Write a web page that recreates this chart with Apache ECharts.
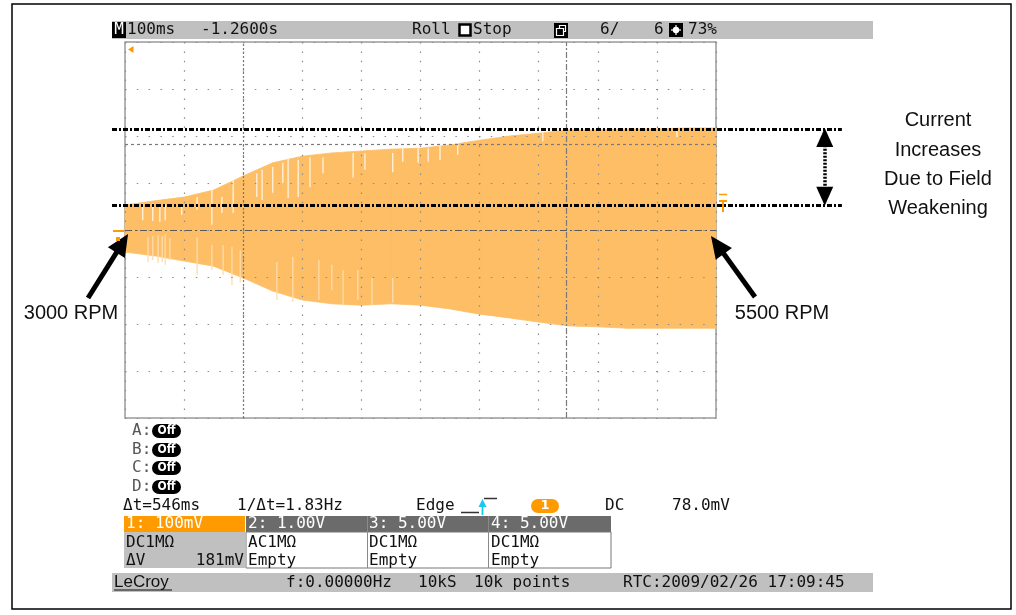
<!DOCTYPE html>
<html lang="en">
<head>
<meta charset="UTF-8">
<title>Field Weakening - scope capture</title>
<script src="https://cdn.jsdelivr.net/npm/echarts@6/dist/echarts.min.js"></script>
<style>
  html, body { margin: 0; padding: 0; background: #fff; }
  #chart { width: 1016px; height: 615px; }
</style>
</head>
<body>
<div id="chart"></div>
<script>
// time in ms (100 ms/div, 10 div), channel 1 in mV (100 mV/div, 8 div)
var timeMs  = [0, 50, 100, 150, 200, 250, 300, 350, 400, 450, 500, 550, 600, 650, 700, 750, 800, 850, 900, 950, 1000];
var upperMv = [53, 62, 70, 85, 115, 143, 157, 164, 168, 172, 174, 181, 191, 200, 206, 213, 213, 215, 215, 217, 217];
var lowerMv = [-47, -55, -66, -77, -102, -130, -149, -157, -160, -157, -160, -168, -179, -187, -196, -204, -206, -209, -209, -209, -209];

// light gaps inside the upper half of the trace
var gapTime = [30, 47, 59, 68, 96, 122, 147, 164, 183, 223, 232, 250, 267, 276, 293, 313, 335, 386, 406, 453, 470, 496, 513, 533, 563, 707, 934];
var gapLow  = [21, 19, 17, 21, 32, 43, 11, 36, 36, 70, 64, 79, 100, 68, 70, 91, 121, 111, 128, 123, 145, 143, 145, 149, 160, 189, 198];
var gapHigh = [57, 57, 53, 55, 49, 70, 85, 70, 106, 121, 128, 134, 143, 155, 149, 155, 155, 164, 164, 164, 177, 174, 174, 185, 185, 208, 213];

// pale spikes in the lower half
var spikeTime = [39, 47, 56, 63, 68, 76, 122, 147, 166, 181, 195, 257, 284, 328, 350, 369, 394, 418, 453];
var spikeLow  = [-68, -64, -70, -68, -74, -64, -96, -85, -96, -117, -111, -149, -153, -149, -128, -160, -149, -160, -155];
var spikeHigh = [-15, -13, -11, -13, -9, -17, -15, -32, -32, -36, -43, -68, -57, -64, -74, -85, -85, -102, -102];

// cursors: two time cursors (dt = 546 ms) and two level cursors (dV = 181 mV)
var timeCursors = [200, 746];
var levelCursors = [183, 0];

// annotation levels (drawn by hand on the screenshot)
var markLevels = [215, 53];
var markSpan = [-22, 1213];
var arrowX = 1184;
var arrowEnds = [197, 72];
var rpmArrowLeft = [[-62.6, -144.7], [-4.7, -28.3]];
var rpmArrowRight = [[1066, -142.6], [1002.4, -31.7]];

var PLOT = { left: 125, top: 42, width: 591, height: 376 };
var W = 1016, H = 615;
var xMin = 0, xMax = 1000, yMin = -400, yMax = 400;
var msPerPx = (xMax - xMin) / PLOT.width;
var mvPerPx = (yMax - yMin) / PLOT.height;
var ovX = [xMin - PLOT.left * msPerPx, xMax + (W - PLOT.left - PLOT.width) * msPerPx];
var ovY = [yMin - (H - PLOT.top - PLOT.height) * mvPerPx, yMax + PLOT.top * mvPerPx];

var ORANGE = '#fdbe66';
var SCOPE_FONT = '16px "DejaVu Sans Mono"';

var chart = echarts.init(document.getElementById('chart'));

function triples(xs, a, b) {
    return xs.map(function (x, i) { return [x, a[i], b[i]]; });
}
function streak(color) {
    return function (params, api) {
        var p1 = api.coord([api.value(0), api.value(1)]);
        var p2 = api.coord([api.value(0), api.value(2)]);
        return {
            type: 'line',
            shape: { x1: p1[0], y1: p1[1], x2: p2[0], y2: p2[1] },
            style: { stroke: color, lineWidth: 1.3 }
        };
    };
}
// envelope band: one quad between sample i and i+1
function bandPiece(params, api) {
    var i = params.dataIndex;
    if (i >= timeMs.length - 1) return null;
    var a = api.coord([timeMs[i], upperMv[i]]);
    var b = api.coord([timeMs[i + 1], upperMv[i + 1]]);
    var c = api.coord([timeMs[i + 1], lowerMv[i + 1]]);
    var d = api.coord([timeMs[i], lowerMv[i]]);
    return {
        type: 'polygon',
        shape: { points: [a, b, c, d] },
        style: { fill: ORANGE, stroke: ORANGE, lineWidth: 0.8 }
    };
}

// graphic helpers for the scope's on-screen text
function txt(x, y, s, o) {
    o = o || {};
    return {
        type: 'text', x: x, y: y, z: 20,
        style: {
            text: s, font: o.font || SCOPE_FONT, fill: o.fill || '#111',
            align: o.align || 'left', verticalAlign: 'middle'
        }
    };
}
function box(x, y, w, h, fill, o) {
    o = o || {};
    return {
        type: 'rect', z: o.z || 15,
        shape: { x: x, y: y, width: w, height: h, r: o.r || 0 },
        style: { fill: fill, stroke: o.stroke || null, lineWidth: o.lw || 1 }
    };
}
function seg(pts, color, lw, z) {
    return { type: 'polyline', z: z || 16, shape: { points: pts }, style: { stroke: color, lineWidth: lw, fill: null } };
}

var graphics = [
    // outer frame
    { type: 'rect', z: 1, shape: { x: 12, y: 4, width: 999, height: 605 }, style: { fill: null, stroke: '#000', lineWidth: 1.5 } },

    // top status bar
    box(112, 21, 761, 18, '#c0c0c0', { z: 10 }),
    box(112, 22, 14, 16, '#000'),
    txt(119, 30, 'M', { fill: '#fff', align: 'center' }),
    txt(127, 30, '100ms'),
    txt(201, 30, '-1.2600s'),
    txt(412, 30, 'Roll'),
    box(459.5, 24.5, 11, 11, '#fff', { stroke: '#000', lw: 2.5 }),
    txt(473, 30, 'Stop'),
    box(554, 23, 14, 15, '#000'),
    { type: 'rect', z: 16, shape: { x: 559.5, y: 25.5, width: 6, height: 6 }, style: { fill: null, stroke: '#fff', lineWidth: 1.2 } },
    { type: 'rect', z: 16, shape: { x: 556.5, y: 28.5, width: 7, height: 7 }, style: { fill: '#000', stroke: '#fff', lineWidth: 1.2 } },
    txt(600, 30, '6/'),
    txt(654, 30, '6'),
    box(669, 23, 14, 14, '#000'),
    { type: 'circle', z: 16, shape: { cx: 676, cy: 30, r: 3.2 }, style: { fill: '#fff' } },
    seg([[671, 30], [681, 30]], '#fff', 1.2),
    seg([[676, 25], [676, 35]], '#fff', 1.2),
    txt(688, 30, '73%'),

    // trigger / ground markers around the plot
    { type: 'polygon', z: 20, shape: { points: [[128, 49.5], [133.5, 46], [133.5, 53]] }, style: { fill: '#ff9a00' } },
    seg([[113, 231], [124, 231]], '#ff9a00', 2, 20),
    box(116, 237, 4, 4, '#ff9a00', { z: 20 }),
    seg([[719, 194.5], [727, 194.5]], '#ff9a00', 1.5, 20),
    seg([[719, 201], [727, 201]], '#ff9a00', 2, 20),
    seg([[723, 201], [723, 212]], '#ff9a00', 2, 20),

    // math / zoom traces
    txt(132, 431, 'A:', { fill: '#555' }),
    txt(132, 450, 'B:', { fill: '#555' }),
    txt(132, 468, 'C:', { fill: '#555' }),
    txt(132, 487, 'D:', { fill: '#555' })
];
[431, 450, 468, 487].forEach(function (y) {
    graphics.push(box(152, y - 7, 29, 14, '#000', { r: 7 }));
    graphics.push(txt(166.5, y, 'Off', { fill: '#fff', align: 'center', font: 'bold 12px "DejaVu Sans Condensed"' }));
});

graphics = graphics.concat([
    // cursor / trigger readout line
    txt(123, 506, '\u0394t=546ms'),
    txt(237, 506, '1/\u0394t=1.83Hz'),
    txt(416, 506, 'Edge'),
    seg([[461, 512.5], [479, 512.5]], '#333', 1.5),
    seg([[484, 498.5], [497, 498.5]], '#333', 1.5),
    seg([[482.5, 515], [482.5, 504]], '#19c8f0', 1.8),
    { type: 'polygon', z: 17, shape: { points: [[482.5, 499], [478.5, 507], [486.5, 507]] }, style: { fill: '#19c8f0' } },
    box(531, 499, 28, 14, '#ff9a00', { r: 7 }),
    txt(545, 506, '1', { fill: '#fff', align: 'center', font: 'bold 13px "DejaVu Sans"' }),
    txt(605, 506, 'DC'),
    txt(672, 506, '78.0mV'),

    // channel table
    box(246, 516, 365, 16, '#6b6b6b'),
    box(124, 516, 121, 16, '#ff9a00'),
    box(124, 532, 121, 36, '#c0c0c0'),
    box(246, 532, 365, 36, '#fff', { stroke: '#777', lw: 1 }),
    seg([[367.5, 516], [367.5, 568]], '#8a8a8a', 1),
    seg([[488.5, 516], [488.5, 568]], '#8a8a8a', 1),
    txt(126, 524, '1: 100mV', { fill: '#fff' }),
    txt(248, 524, '2: 1.00V', { fill: '#fff' }),
    txt(369, 524, '3: 5.00V', { fill: '#fff' }),
    txt(491, 524, '4: 5.00V', { fill: '#fff' }),
    txt(126, 543, 'DC1M\u03a9'),
    txt(248, 543, 'AC1M\u03a9'),
    txt(369, 543, 'DC1M\u03a9'),
    txt(491, 543, 'DC1M\u03a9'),
    txt(126, 561, '\u0394V'),
    txt(244, 561, '181mV', { align: 'right' }),
    txt(248, 561, 'Empty'),
    txt(369, 561, 'Empty'),
    txt(491, 561, 'Empty'),

    // bottom status bar
    box(112, 573, 761, 19, '#c0c0c0', { z: 10 }),
    txt(114, 582, 'LeCroy', { font: '17px "Liberation Sans"' }),
    seg([[114, 590], [172, 590]], '#111', 1.2),
    txt(286, 583, 'f:0.00000Hz'),
    txt(418, 583, '10kS'),
    txt(474, 583, '10k points'),
    txt(623, 583, 'RTC:2009/02/26 17:09:45'),

    // annotations
    txt(938, 120, 'Current', { font: '20px "Liberation Sans"', align: 'center' }),
    txt(938, 150, 'Increases', { font: '20px "Liberation Sans"', align: 'center' }),
    txt(938, 179, 'Due to Field', { font: '20px "Liberation Sans"', align: 'center' }),
    txt(938, 208, 'Weakening', { font: '20px "Liberation Sans"', align: 'center' }),
    txt(71, 313, '3000 RPM', { font: '20px "Liberation Sans"', align: 'center' }),
    txt(782, 313, '5500 RPM', { font: '20px "Liberation Sans"', align: 'center' })
]);

var noLabel = { show: false };

var option = {
    animation: false,
    backgroundColor: '#fff',
    grid: [
        { left: PLOT.left, top: PLOT.top, width: PLOT.width, height: PLOT.height,
          show: true, borderColor: '#9a9a9a', borderWidth: 1.5, backgroundColor: 'transparent' },
        { left: 0, top: 0, width: W, height: H }
    ],
    xAxis: [
        { type: 'value', gridIndex: 0, min: xMin, max: xMax, interval: 100, z: 4,
          axisLine: { show: false }, axisTick: { show: false }, axisLabel: { show: false },
          splitLine: { lineStyle: { color: '#8c8c8c', width: 1.2, type: [1.5, 7.9] } } },
        { type: 'value', gridIndex: 1, min: ovX[0], max: ovX[1], show: false, splitLine: { show: false } }
    ],
    yAxis: [
        { type: 'value', gridIndex: 0, min: yMin, max: yMax, interval: 100, z: 4,
          axisLine: { show: false }, axisTick: { show: false }, axisLabel: { show: false },
          splitLine: { lineStyle: { color: '#8c8c8c', width: 1.2, type: [1.5, 10.3] } } },
        { type: 'value', gridIndex: 1, min: ovY[0], max: ovY[1], show: false, splitLine: { show: false } }
    ],
    graphic: { elements: graphics },
    series: [
        {
            name: 'Ch1', type: 'custom', xAxisIndex: 0, yAxisIndex: 0, z: 2, silent: true,
            data: triples(timeMs, lowerMv, upperMv), encode: { x: 0, y: [1, 2] },
            renderItem: bandPiece
        },
        {
            name: 'gaps', type: 'custom', xAxisIndex: 0, yAxisIndex: 0, z: 3, silent: true,
            data: triples(gapTime, gapLow, gapHigh), encode: { x: 0, y: [1, 2] },
            renderItem: streak('#fff3e0')
        },
        {
            name: 'spikes', type: 'custom', xAxisIndex: 0, yAxisIndex: 0, z: 3, silent: true,
            data: triples(spikeTime, spikeLow, spikeHigh), encode: { x: 0, y: [1, 2] },
            renderItem: streak('#fedcac')
        },
        {
            name: 'cursors', type: 'line', xAxisIndex: 0, yAxisIndex: 0, data: [], z: 5,
            markLine: {
                silent: true, symbol: 'none', label: noLabel, animation: false,
                data: [
                    { xAxis: timeCursors[0], lineStyle: { color: '#7a7a7a', width: 1.2, type: [2, 2] } },
                    { xAxis: timeCursors[1], lineStyle: { color: '#7a7a7a', width: 1.2, type: [6, 2, 2, 2] } },
                    { yAxis: levelCursors[0], lineStyle: { color: '#7a7a7a', width: 1.2, type: [3, 3] } },
                    { yAxis: levelCursors[1], lineStyle: { color: '#5a5a5a', width: 1.2, type: [7, 3, 2, 3] } }
                ]
            }
        },
        {
            name: 'levels', type: 'line', xAxisIndex: 1, yAxisIndex: 1, data: [], z: 6,
            markLine: {
                silent: true, symbol: 'none', label: noLabel, animation: false,
                lineStyle: { color: '#000', width: 3, type: [5, 2, 2, 2] },
                data: markLevels.map(function (v) {
                    return [{ coord: [markSpan[0], v] }, { coord: [markSpan[1], v] }];
                })
            }
        },
        {
            name: 'gap arrow', type: 'line', xAxisIndex: 1, yAxisIndex: 1, data: [], z: 6,
            markLine: {
                silent: true, symbol: ['triangle', 'triangle'], symbolSize: [17, 19],
                label: noLabel, animation: false,
                lineStyle: { color: '#000', width: 3.5, type: [2, 1.5] },
                data: [[{ coord: [arrowX, arrowEnds[1]] }, { coord: [arrowX, arrowEnds[0]] }]]
            }
        },
        {
            name: 'rpm arrows', type: 'line', xAxisIndex: 1, yAxisIndex: 1, data: [], z: 6,
            markLine: {
                silent: true, symbol: ['none', 'triangle'], symbolSize: [20, 22],
                label: noLabel, animation: false,
                lineStyle: { color: '#000', width: 5, type: 'solid' },
                data: [
                    [{ coord: rpmArrowLeft[0] }, { coord: rpmArrowLeft[1] }],
                    [{ coord: rpmArrowRight[0] }, { coord: rpmArrowRight[1] }]
                ]
            }
        }
    ]
};

chart.setOption(option);
</script>
</body>
</html>
